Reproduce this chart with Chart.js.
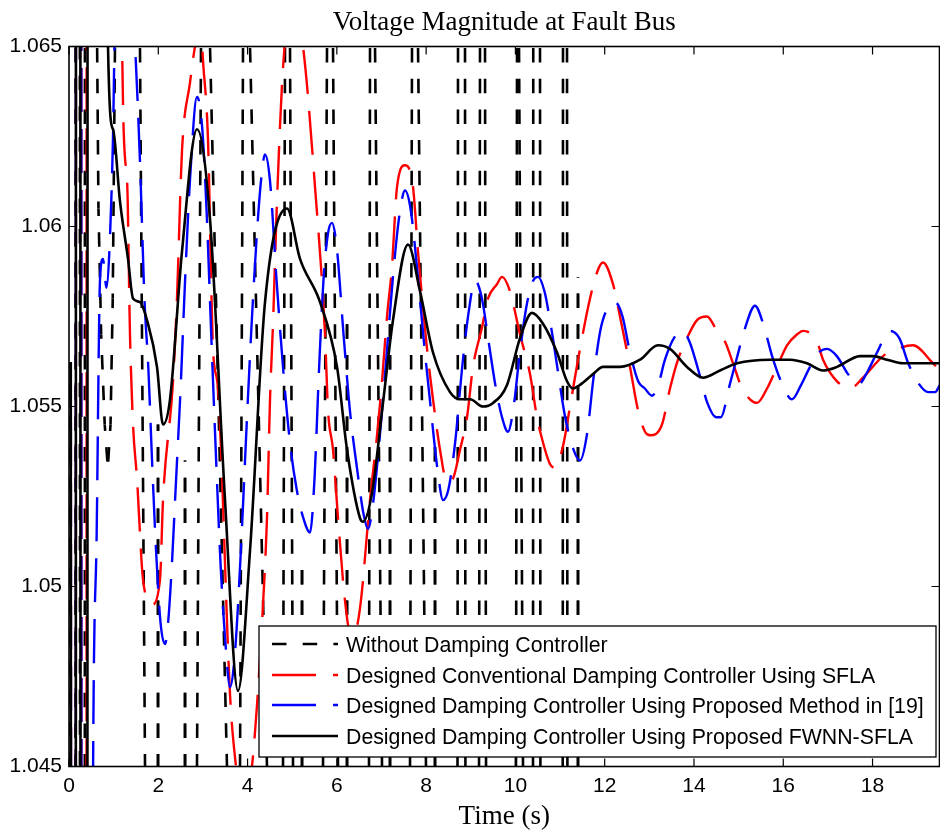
<!DOCTYPE html>
<html><head><meta charset="utf-8">
<script src="https://cdn.jsdelivr.net/npm/chart.js@4.4.1/dist/chart.umd.min.js"></script>
<style>html,body{margin:0;padding:0;background:#fff;}#wrap{width:940px;height:836px;}</style>
</head><body><div id="wrap"><canvas id="c" width="940" height="836"></canvas></div>
<script>
const chartTitle = 'Voltage Magnitude at Fault Bus';
const xAxisTitle = 'Time (s)';
const seriesLabels = [
  'Without Damping Controller',
  'Designed Conventional Damping Controller Using SFLA',
  'Designed Damping Controller Using Proposed Method in [19]',
  'Designed Damping Controller Using Proposed FWNN-SFLA'
];
const xTickValues = [0, 2, 4, 6, 8, 10, 12, 14, 16, 18];
const yTickValues = [1.045, 1.05, 1.055, 1.06, 1.065];
const yTickLabels = ['1.045', '1.05', '1.055', '1.06', '1.065'];

// Without damping controller (black dashed) - large unstable swings, mostly off scale
const tWithout = [0,0.03,0.05,0.13,0.16,0.23,0.26,0.34,0.37,0.55,
  0.63,0.66,0.72,0.80,0.87,0.93,0.98,1.03,1.10,
  1.45,1.59,1.703,1.75,
  1.982,1.994,2.006, 2.587,2.599,2.611,
  2.84,2.867,2.957,2.98, 3.13,3.159,3.539,3.56,
  3.81,3.831,3.898,3.92, 4.03,4.055,4.435,4.46,
  4.77,4.794,4.839,4.86, 4.93,4.951,5.018,5.04, 5.208,5.22,5.232,
  5.67,5.69,5.78,5.80, 5.89,5.914,6.026,6.05, 6.216,6.228,6.24,
  6.70,6.72,6.743,6.76, 6.83,6.855,7.012,7.03, 7.179,7.191,7.203,
  7.62,7.639,7.684,7.70, 7.80,7.818,7.997,8.02, 8.187,8.199,8.211,
  8.69,8.703,8.714,8.73, 8.85,8.871,8.88,8.90,
  9.17,9.185,9.207,9.22, 9.30,9.319,9.342,9.36,
  10.00,10.013,10.036,10.05, 10.065,10.081,10.17,10.19,
  10.38,10.394,10.40,10.42, 10.535,10.551,10.56,10.58,
  11.05,11.06,11.066,11.08, 11.14,11.156,11.165,11.18,
  11.39,11.402,11.414];
const vWithout = [1.0562,1.0562,0.9,0.9,1.2,1.2,0.9,0.9,1.2,1.2,
  1.065,1.0605,1.057,1.0545,1.0533,1.0545,1.058,1.065,1.2,
  1.2,1.065,1.045,0.9,
  0.9,1.0545,0.9, 0.9,1.0535,0.9,
  0.9,1.045,1.065,1.2, 1.2,1.065,1.045,0.9,
  0.9,1.045,1.065,1.2, 1.2,1.065,1.045,0.9,
  0.9,1.045,1.065,1.2, 1.2,1.065,1.045,0.9, 0.9,1.0505,0.9,
  0.9,1.045,1.065,1.2, 1.2,1.065,1.045,0.9, 0.9,1.0575,0.9,
  0.9,1.045,1.065,1.2, 1.2,1.065,1.045,0.9, 0.9,1.0575,0.9,
  0.9,1.045,1.065,1.2, 1.2,1.065,1.045,0.9, 0.9,1.054,0.9,
  0.9,1.045,1.065,1.2, 1.2,1.065,1.045,0.9,
  0.9,1.045,1.065,1.2, 1.2,1.065,1.045,0.9,
  0.9,1.045,1.065,1.2, 1.2,1.065,1.045,0.9,
  0.9,1.045,1.065,1.2, 1.2,1.065,1.045,0.9,
  0.9,1.045,1.065,1.2, 1.2,1.065,1.045,0.9,
  0.9,1.0586,0.9];

// Conventional SFLA controller (red dashed)
const tSFLA = [0,0.04,0.06,0.14,0.17,0.26,0.29,0.38,0.41,0.9,1.19,1.30,1.366,1.434,1.523,1.658,1.859,2.039,2.106,2.33,2.419,2.531,2.711,2.823,2.95,3.002,3.114,3.226,3.338,3.607,3.741,3.92,4.099,4.211,4.346,4.435,4.503,4.57,4.659,4.794,5.0,5.242,5.511,5.735,5.802,5.914,6.026,6.183,6.34,6.519,6.743,6.9,7.012,7.124,7.236,7.348,7.527,7.706,7.818,8.02,8.154,8.311,8.468,8.602,8.759,8.916,9.05,9.252,9.386,9.588,9.7,9.879,10.103,10.327,10.484,10.618,10.775,10.887,11.066,11.223,11.447,11.671,11.85,11.962,12.186,12.343,12.567,12.746,12.903,13.015,13.284,13.463,13.642,13.844,14.068,14.292,14.516,14.696,14.875,15.076,15.255,15.412,15.636,15.86,16.084,16.308,16.443,16.756,16.891,17.204,17.495,17.786,18.235,18.548,18.907,19.355,19.51];
const vSFLA = [1.0562,1.0562,0.93,0.93,1.2,1.2,0.93,0.93,1.2,1.2,1.065,1.0613,1.057,1.0545,1.053,1.0502,1.0495,1.0502,1.0524,1.0557,1.058,1.0621,1.064,1.065,1.0656,1.0646,1.0624,1.0566,1.0555,1.047,1.045,1.0435,1.045,1.0467,1.0495,1.0519,1.0552,1.0573,1.0607,1.0644,1.0663,1.065,1.0611,1.057,1.0549,1.0538,1.0519,1.0496,1.0485,1.0494,1.0524,1.0542,1.0557,1.0575,1.0589,1.0611,1.0617,1.0611,1.0593,1.0566,1.0552,1.0538,1.0529,1.053,1.0538,1.0547,1.0561,1.0572,1.058,1.0584,1.0586,1.0582,1.057,1.0559,1.0547,1.054,1.0534,1.0533,1.0539,1.055,1.0566,1.058,1.0588,1.059,1.0584,1.0575,1.0561,1.0549,1.0543,1.0542,1.0545,1.0555,1.0563,1.0569,1.0574,1.0575,1.0571,1.0568,1.0562,1.0555,1.0552,1.0551,1.0555,1.0561,1.0567,1.057,1.0571,1.0568,1.0563,1.0557,1.0555,1.0558,1.0564,1.0566,1.0567,1.0562,1.056];

// Proposed method in [19] (blue dashed)
const tRef19 = [0,0.04,0.06,0.14,0.17,0.26,0.29,0.45,0.5,0.54,0.62,0.694,0.76,0.84,0.9,0.986,1.02,1.25,1.48,1.59,1.69,1.78,1.86,1.95,2.05,2.151,2.22,2.3,2.4,2.5,2.6,2.72,2.867,2.98,3.08,3.18,3.28,3.4,3.5,3.607,3.72,3.85,3.98,4.1,4.22,4.32,4.391,4.5,4.65,4.8,4.95,5.1,5.25,5.399,5.5,5.6,5.7,5.8,5.892,6.0,6.15,6.3,6.45,6.6,6.7,6.8,6.95,7.1,7.25,7.4,7.527,7.65,7.8,7.95,8.1,8.25,8.378,8.5,8.65,8.8,8.95,9.095,9.25,9.4,9.55,9.7,9.834,9.95,10.1,10.25,10.4,10.506,10.65,10.8,10.95,11.1,11.25,11.447,11.6,11.75,11.9,12.05,12.231,12.4,12.55,12.75,12.9,13.06,13.2,13.35,13.55,13.732,13.9,14.1,14.3,14.5,14.6,14.8,14.95,15.15,15.367,15.55,15.75,15.95,16.196,16.4,16.6,16.8,16.98,17.2,17.45,17.675,17.9,18.1,18.392,18.6,18.8,19.0,19.25,19.4,19.51];
const vRef19 = [1.0562,1.0562,0.93,0.93,1.2,1.2,0.93,0.93,1.03,1.045,1.0515,1.0585,1.0591,1.0583,1.0592,1.0625,1.065,1.069,1.065,1.0618,1.058,1.056,1.0535,1.051,1.049,1.0484,1.049,1.0505,1.053,1.0555,1.0585,1.0615,1.0636,1.0628,1.0605,1.0572,1.054,1.0505,1.0485,1.0472,1.0482,1.051,1.0545,1.0575,1.06,1.0615,1.062,1.0613,1.0585,1.056,1.054,1.0527,1.0519,1.0515,1.053,1.056,1.0585,1.0598,1.0601,1.0594,1.057,1.0548,1.0533,1.052,1.0516,1.0522,1.054,1.0562,1.0585,1.0603,1.061,1.0605,1.0588,1.0568,1.055,1.0533,1.0524,1.0527,1.054,1.056,1.0576,1.0585,1.058,1.0568,1.0556,1.0547,1.0543,1.0549,1.0565,1.0578,1.0585,1.0586,1.0582,1.0572,1.056,1.0548,1.054,1.0535,1.0542,1.0558,1.0571,1.0577,1.0579,1.0575,1.0566,1.0557,1.0555,1.0553,1.0556,1.0563,1.0569,1.0571,1.0568,1.056,1.0551,1.0547,1.0547,1.0556,1.0563,1.0572,1.0578,1.0573,1.0564,1.0557,1.0552,1.0556,1.0561,1.0565,1.0566,1.0564,1.0559,1.0556,1.056,1.0565,1.0571,1.0569,1.0562,1.0557,1.0554,1.0554,1.0556];

// Proposed FWNN-SFLA (black solid)
const tFWNN = [0,0.04,0.06,0.14,0.17,0.24,0.27,0.40,0.43,0.70,0.874,0.986,1.142,1.322,1.434,1.59,1.747,1.971,2.106,2.263,2.531,2.867,3.159,3.495,3.786,4.055,4.391,4.884,5.175,5.623,6.004,6.228,6.519,6.586,6.788,7.034,7.258,7.594,7.863,8.154,8.535,8.759,8.983,9.274,9.498,9.812,10.103,10.372,10.618,10.932,11.156,11.29,11.447,11.738,11.962,12.343,12.791,13.194,13.463,13.844,14.203,14.584,14.964,15.703,16.151,16.532,16.891,17.204,17.72,18.011,18.324,18.683,19.51];
const vFWNN = [1.0562,1.0562,0.93,0.93,1.2,1.2,0.93,0.93,1.2,1.2,1.065,1.0627,1.0607,1.0591,1.058,1.0579,1.0574,1.0561,1.0545,1.0552,1.0593,1.0627,1.0602,1.0524,1.0471,1.051,1.0579,1.0605,1.0591,1.0579,1.0561,1.0538,1.0519,1.0518,1.0526,1.0551,1.0574,1.0595,1.0582,1.0565,1.0554,1.0552,1.0552,1.055,1.0551,1.0556,1.0569,1.0576,1.0573,1.0565,1.0557,1.0555,1.0556,1.0559,1.0561,1.0561,1.0563,1.0567,1.0566,1.0561,1.0558,1.056,1.0562,1.0563,1.0563,1.0562,1.056,1.0561,1.0564,1.0564,1.0563,1.0562,1.0562];

const pts = (t, v) => t.map((x, i) => ({x: x, y: v[i]}));

// dash pattern of the black dashed series, kept aligned in horizontal rows
const BLK_DASH = [14.5, 16.2];
const BLK_PERIOD = BLK_DASH[0] + BLK_DASH[1];
const BLK_ROW0 = 48;
const alignedOffset = c => {
  const y0 = c.p0.y, y1 = c.p1.y;
  const off = (y1 < y0) ? (BLK_DASH[0] + BLK_ROW0 - y0) : (y0 - BLK_ROW0);
  return ((off % BLK_PERIOD) + BLK_PERIOD) % BLK_PERIOD;
};

const decor = {
  id: 'decor',
  afterDraw(chart) {
    const {ctx, chartArea: a, scales: {x, y}} = chart;
    ctx.save();
    ctx.strokeStyle = '#000';
    ctx.lineWidth = 1.2;
    ctx.setLineDash([]);
    ctx.beginPath();
    xTickValues.forEach(v => {
      const px = x.getPixelForValue(v);
      ctx.moveTo(px, a.bottom); ctx.lineTo(px, a.bottom - 8);
      ctx.moveTo(px, a.top); ctx.lineTo(px, a.top + 8);
    });
    yTickValues.forEach(v => {
      const py = y.getPixelForValue(v);
      ctx.moveTo(a.left, py); ctx.lineTo(a.left + 8, py);
      ctx.moveTo(a.right, py); ctx.lineTo(a.right - 8, py);
    });
    ctx.stroke();
    ctx.lineWidth = 1.6;
    ctx.strokeRect(a.left, a.top, a.right - a.left, a.bottom - a.top);
    // title
    ctx.fillStyle = '#000';
    ctx.font = '27px "Liberation Serif", "Times New Roman", serif';
    ctx.textAlign = 'center';
    ctx.textBaseline = 'alphabetic';
    ctx.fillText(chartTitle, (a.left + a.right) / 2, 30);
    // legend box
    const L = 259, T = 626, R = 936, B = 757;
    ctx.fillStyle = '#fff';
    ctx.fillRect(L, T, R - L, B - T);
    ctx.lineWidth = 1.3;
    ctx.strokeRect(L, T, R - L, B - T);
    const baselines = [652, 683, 713, 744];
    ctx.font = '21.3px "Liberation Sans", Arial, sans-serif';
    ctx.textAlign = 'left';
    chart.data.datasets.forEach((ds, i) => {
      const yb = baselines[i];
      ctx.strokeStyle = ds.borderColor;
      ctx.lineWidth = ds.borderWidth;
      ctx.setLineDash(ds.borderDash || []);
      ctx.lineDashOffset = 0;
      ctx.beginPath();
      ctx.moveTo(272, yb - 8); ctx.lineTo(338, yb - 8);
      ctx.stroke();
      ctx.setLineDash([]);
      ctx.fillStyle = '#000';
      ctx.fillText(ds.label, 346, yb);
    });
    ctx.restore();
  }
};

new Chart(document.getElementById('c'), {
  type: 'line',
  data: {
    datasets: [
      {label: seriesLabels[0], data: pts(tWithout, vWithout), borderColor: '#000000', borderWidth: 2.6, borderDash: BLK_DASH, order: 4, tension: 0,
        segment: {borderDashOffset: alignedOffset}},
      {label: seriesLabels[1], data: pts(tSFLA, vSFLA), borderColor: '#ff0000', borderWidth: 2.4, borderDash: [44, 17], order: 3, cubicInterpolationMode: 'monotone'},
      {label: seriesLabels[2], data: pts(tRef19, vRef19), borderColor: '#0000ff', borderWidth: 2.4, borderDash: [44, 17], order: 2, cubicInterpolationMode: 'monotone'},
      {label: seriesLabels[3], data: pts(tFWNN, vFWNN), borderColor: '#000000', borderWidth: 2.6, order: 1, cubicInterpolationMode: 'monotone'}
    ]
  },
  options: {
    responsive: false,
    animation: false,
    events: [],
    layout: {padding: {top: 46.5, right: 0.5, bottom: 0, left: 0}},
    elements: {point: {radius: 0}},
    plugins: {legend: {display: false}, title: {display: false}, tooltip: {enabled: false}},
    scales: {
      x: {
        type: 'linear', min: 0, max: 19.5,
        grid: {display: false, drawTicks: false},
        border: {display: false},
        afterBuildTicks: s => { s.ticks = xTickValues.map(v => ({value: v})); },
        afterFit: s => { s.height = 69.5; },
        ticks: {color: '#000', padding: 7, maxRotation: 0, font: {family: '"Liberation Sans", Arial, sans-serif', size: 21}, callback: v => String(v)},
        title: {display: true, text: xAxisTitle, color: '#000', padding: {top: 0, bottom: 3}, font: {family: '"Liberation Serif", "Times New Roman", serif', size: 27}}
      },
      y: {
        type: 'linear', min: 1.045, max: 1.065,
        grid: {display: false, drawTicks: false},
        border: {display: false},
        afterBuildTicks: s => { s.ticks = yTickValues.map(v => ({value: v})); },
        afterFit: s => { s.width = 69; },
        ticks: {color: '#000', padding: 7, font: {family: '"Liberation Sans", Arial, sans-serif', size: 21},
          callback: (v, i) => yTickLabels[i]}
      }
    }
  },
  plugins: [decor]
});
</script>
</body></html>
